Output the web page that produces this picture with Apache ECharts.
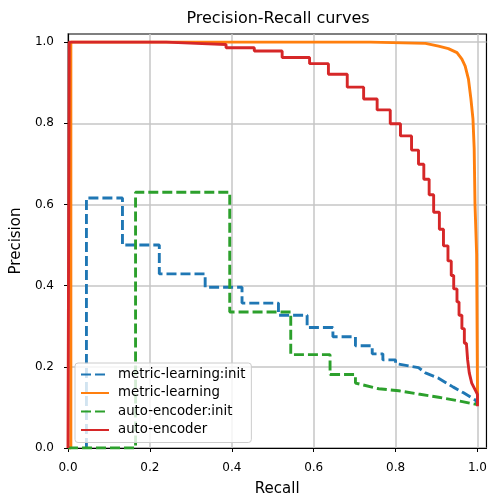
<!DOCTYPE html>
<html>
<head>
<meta charset="utf-8">
<title>Precision-Recall curves</title>
<script src="https://cdn.jsdelivr.net/npm/echarts@6/dist/echarts.min.js"></script>
<style>
    html, body { margin: 0; padding: 0; background: #fff; }
    #main { width: 490px; height: 502px; }
</style>
</head>
<body>
<div id="main"></div>
<script>
var tickValues = [0, 0.2, 0.4, 0.6, 0.8, 1.0];

// metric-learning:init
var mlInitRecall = [0.045, 0.045, 0.133, 0.133, 0.223, 0.223, 0.335, 0.335, 0.425, 0.425, 0.514, 0.514,
    0.584, 0.584, 0.647, 0.647, 0.702, 0.702, 0.743, 0.743, 0.769, 0.769, 0.800, 0.800,
    0.856, 0.873, 0.905, 0.941, 0.966, 0.995, 1.0];
var mlInitPrecision = [0, 0.616, 0.616, 0.500, 0.500, 0.429, 0.429, 0.396, 0.396, 0.357, 0.357, 0.327,
    0.327, 0.297, 0.297, 0.274, 0.274, 0.252, 0.252, 0.232, 0.232, 0.217, 0.217, 0.208,
    0.198, 0.185, 0.172, 0.150, 0.136, 0.118, 0.108];

// metric-learning
var mlRecall = [0, 0.007, 0.007, 0.739, 0.739, 0.873, 0.905, 0.929, 0.950, 0.962, 0.970, 0.978,
    0.984, 0.989, 0.992, 0.994, 0.998, 1.0, 1.0];
var mlPrecision = [0, 0, 1.0, 1.0, 0.997, 0.997, 0.990, 0.984, 0.974, 0.958, 0.941, 0.909,
    0.860, 0.811, 0.738, 0.600, 0.478, 0.152, 0.105];

// auto-encoder:init
var aeInitRecall = [0, 0.165, 0.165, 0.395, 0.395, 0.544, 0.544, 0.640, 0.640, 0.702, 0.702,
    0.759, 0.808, 0.856, 0.905, 0.954, 1.0];
var aeInitPrecision = [0, 0, 0.630, 0.630, 0.335, 0.335, 0.230, 0.230, 0.181, 0.181, 0.160,
    0.146, 0.141, 0.133, 0.125, 0.116, 0.107];

// auto-encoder
var aeRecall = [0, 0.003, 0.003, 0.240, 0.240, 0.313, 0.313, 0.386, 0.386, 0.455, 0.455,
    0.523, 0.523, 0.590, 0.590, 0.636, 0.636, 0.682, 0.682, 0.722, 0.722, 0.755, 0.755,
    0.787, 0.787, 0.812, 0.812, 0.839, 0.839, 0.856, 0.856, 0.869, 0.869, 0.882, 0.882,
    0.893, 0.893, 0.907, 0.907, 0.917, 0.917, 0.928, 0.928, 0.936, 0.936, 0.942, 0.942,
    0.950, 0.950, 0.955, 0.955, 0.962, 0.962, 0.968, 0.968,
    0.973, 0.976, 0.980, 0.986, 0.996, 1.0, 1.0];
var aePrecision = [0, 0, 1.0, 1.0, 0.997, 0.997, 0.994, 0.994, 0.986, 0.986, 0.978,
    0.978, 0.962, 0.962, 0.947, 0.947, 0.921, 0.921, 0.889, 0.889, 0.860, 0.860, 0.833,
    0.833, 0.799, 0.799, 0.769, 0.769, 0.734, 0.734, 0.699, 0.699, 0.662, 0.662, 0.624,
    0.624, 0.581, 0.581, 0.539, 0.539, 0.498, 0.498, 0.461, 0.461, 0.425, 0.425, 0.392,
    0.392, 0.360, 0.360, 0.327, 0.327, 0.294, 0.294, 0.258,
    0.258, 0.217, 0.185, 0.160, 0.140, 0.132, 0.103];

var font = 'DejaVu Sans';

function toPoints(xs, ys) {
    var pts = [];
    for (var i = 0; i < xs.length; i++) {
        pts.push([xs[i], ys[i]]);
    }
    return pts;
}

function curve(name, color, dashed, xs, ys) {
    return {
        name: name,
        type: 'line',
        symbol: 'none',
        clip: true,
        data: toPoints(xs, ys),
        lineStyle: {
            color: color,
            width: 2.9,
            type: dashed ? [10, 4] : 'solid'
        },
        itemStyle: { color: color }
    };
}

function axisCommon(name, nameGap, nameRotate) {
    return {
        type: 'value',
        min: 0,
        name: name,
        nameLocation: 'middle',
        nameGap: nameGap,
        nameRotate: nameRotate,
        nameTextStyle: { fontFamily: font, fontSize: 15, color: '#000' },
        interval: 0.2,
        axisLine: { show: true, onZero: false, lineStyle: { color: '#000', width: 1.2 } },
        axisTick: { show: true, inside: false, length: 4, customValues: tickValues,
            lineStyle: { color: '#000', width: 1 } },
        axisLabel: {
            customValues: tickValues,
            fontFamily: font, fontSize: 12, color: '#000', margin: 14,
            formatter: function (v) { return v.toFixed(1); }
        },
        splitLine: { show: true, lineStyle: { color: '#c6c6c6', width: 1.5 } }
    };
}

var myChart = echarts.init(document.getElementById('main'), null, { renderer: 'canvas' });

var xAxis = axisCommon('Recall', 34, 0);
xAxis.max = 1.022;
var yAxis = axisCommon('Precision', 41, 90);
yAxis.max = 1.02;

var option = {
    animation: false,
    backgroundColor: '#fff',
    title: {
        text: 'Precision-Recall curves',
        left: 278,
        top: 11,
        padding: 0,
        textAlign: 'center',
        textStyle: { fontFamily: font, fontSize: 16, fontWeight: 'normal', color: '#000' }
    },
    grid: {
        left: 68, top: 34, width: 420, height: 418,
        show: true, borderColor: '#000', borderWidth: 1.2, backgroundColor: 'transparent'
    },
    legend: {
        orient: 'vertical',
        left: 75,
        top: 363,
        padding: [5, 6, 6, 5],
        itemWidth: 28,
        itemHeight: 14,
        itemGap: 5.5,
        itemStyle: { opacity: 0 },
        backgroundColor: 'rgba(255,255,255,0.8)',
        borderColor: '#cccccc',
        borderWidth: 1,
        borderRadius: 3,
        textStyle: { fontFamily: font, fontSize: 13.3, color: '#000', padding: [0, 0, 0, 4] },
        data: ['metric-learning:init', 'metric-learning', 'auto-encoder:init', 'auto-encoder']
    },
    xAxis: xAxis,
    yAxis: yAxis,
    series: [
        curve('metric-learning:init', '#1f77b4', true, mlInitRecall, mlInitPrecision),
        curve('metric-learning', '#ff7f0e', false, mlRecall, mlPrecision),
        curve('auto-encoder:init', '#2ca02c', true, aeInitRecall, aeInitPrecision),
        curve('auto-encoder', '#d62728', false, aeRecall, aePrecision)
    ]
};

myChart.setOption(option);
</script>
</body>
</html>
